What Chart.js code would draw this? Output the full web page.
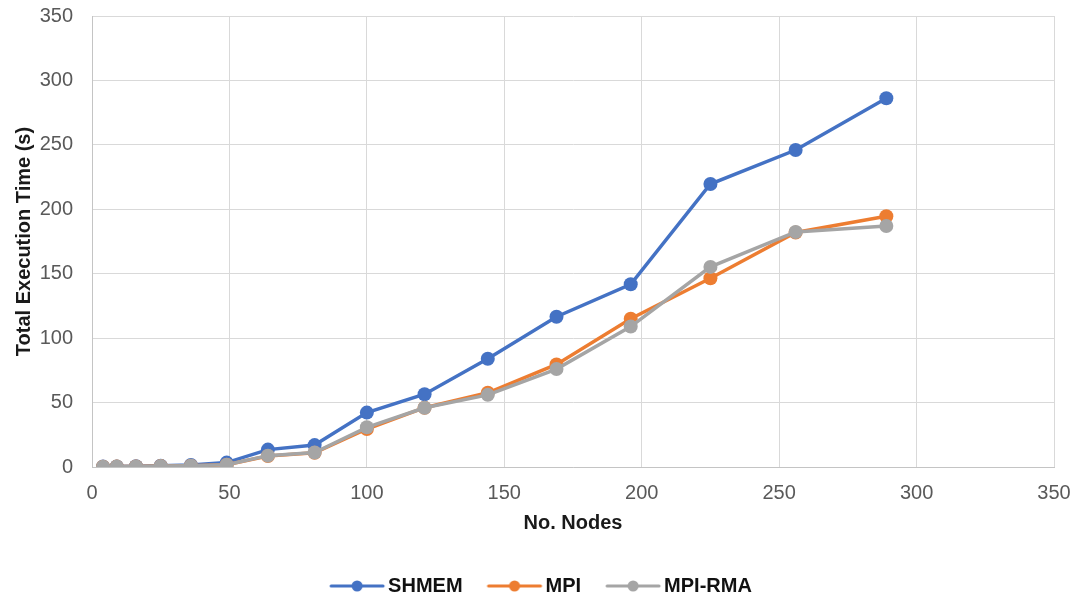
<!DOCTYPE html>
<html>
<head>
<meta charset="utf-8">
<script src="https://cdn.jsdelivr.net/npm/chart.js@4/dist/chart.umd.min.js"></script>
<style>
  html, body { margin: 0; padding: 0; background: #ffffff; }
  #wrap { width: 1078px; height: 601px; }
</style>
</head>
<body>
<div id="wrap"><canvas id="chart" width="1078" height="601"></canvas></div>
<script>
// Node counts (x) and total execution time in seconds (y) per implementation
const nodes = [4, 9, 16, 25, 36, 49, 64, 81, 100, 121, 144, 169, 196, 225, 256, 289];
const shmemTimes = [0.3, 0.4, 0.6, 1.0, 1.5, 3.4, 13.5, 17, 42.2, 56.5, 84, 116.6, 141.8, 219.6, 246, 286.2];
const mpiTimes = [0.2, 0.3, 0.4, 0.7, 1.0, 1.8, 8.5, 11, 29.5, 46, 57.6, 79.6, 115, 146.5, 182, 194.6];
const mpiRmaTimes = [0.2, 0.3, 0.4, 0.7, 1.0, 1.8, 8.8, 11.2, 30.8, 46, 56, 76, 109, 155.3, 182.4, 187];
const seriesNames = ['SHMEM', 'MPI', 'MPI-RMA'];
const seriesColors = ['#4472C4', '#ED7D31', '#A5A5A5'];
const axisTicks = [0, 50, 100, 150, 200, 250, 300, 350];

const FONT = "'Liberation Sans', Arial, sans-serif";

function toPoints(values) {
  return nodes.map((n, i) => ({ x: n, y: values[i] }));
}

// Legend symbol: a short line with a dot in the middle
function legendSymbol(color) {
  const c = document.createElement('canvas');
  c.width = 58; c.height = 14;
  const g = c.getContext('2d');
  g.strokeStyle = color;
  g.lineWidth = 3;
  g.lineCap = 'round';
  g.beginPath(); g.moveTo(3, 7); g.lineTo(55, 7); g.stroke();
  g.fillStyle = color;
  g.beginPath(); g.arc(29, 7, 5.5, 0, Math.PI * 2); g.fill();
  return c;
}

const allSeries = [shmemTimes, mpiTimes, mpiRmaTimes];
const datasets = allSeries.map((vals, i) => ({
  label: seriesNames[i],
  data: toPoints(vals),
  borderColor: seriesColors[i],
  backgroundColor: seriesColors[i],
  borderWidth: 3.5,
  pointRadius: 7,
  pointHoverRadius: 7,
  pointBorderWidth: 0,
  showLine: true,
  tension: 0,
  order: allSeries.length - i
}));

// Fix the legend's height and nudge its row sideways after layout
const legendTweakPlugin = {
  id: 'legendTweak',
  afterInit(chart) {
    const lg = chart.legend;
    if (!lg) return;
    const fit = lg.fit.bind(lg);
    lg.fit = function () { fit(); this.height = 56; };
  },
  afterLayout(chart) {
    const lg = chart.legend;
    if (!lg) return;
    lg.left += 17;
    lg.right += 17;
  }
};

new Chart(document.getElementById('chart'), {
  type: 'scatter',
  data: { datasets },
  plugins: [legendTweakPlugin],
  options: {
    responsive: false,
    animation: false,
    devicePixelRatio: 1,
    layout: { padding: { top: 16, right: 24, bottom: 0, left: 0 } },
    plugins: {
      tooltip: { enabled: false },
      legend: {
        position: 'bottom',
        labels: {
          usePointStyle: true,
          pointStyleWidth: 42,
          padding: 31,
          color: '#111111',
          font: { family: FONT, size: 20, weight: 'bold' },
          generateLabels(chart) {
            return chart.data.datasets.map((ds, i) => ({
              text: ds.label,
              fontColor: '#111111',
              pointStyle: legendSymbol(ds.borderColor),
              strokeStyle: ds.borderColor,
              fillStyle: ds.borderColor,
              lineWidth: 0,
              hidden: !chart.isDatasetVisible(i),
              datasetIndex: i
            }));
          }
        }
      }
    },
    scales: {
      x: {
        type: 'linear',
        min: axisTicks[0],
        max: axisTicks[axisTicks.length - 1],
        afterBuildTicks(scale) { scale.ticks = axisTicks.map(v => ({ value: v })); },
        afterFit(scale) {
          scale.height = 78;
          scale.paddingLeft = 0;
          scale.paddingRight = 0;
        },
        grid: { color: '#d9d9d9', lineWidth: 1, drawTicks: false },
        border: { color: '#c4c4c4', width: 1 },
        ticks: {
          padding: 14,
          color: '#595959',
          font: { family: FONT, size: 20 },
          maxRotation: 0
        },
        title: {
          display: true,
          text: 'No. Nodes',
          color: '#1a1a1a',
          font: { family: FONT, size: 20, weight: 'bold' },
          padding: { top: 0, bottom: 10 }
        }
      },
      y: {
        type: 'linear',
        min: axisTicks[0],
        max: axisTicks[axisTicks.length - 1],
        afterBuildTicks(scale) { scale.ticks = axisTicks.map(v => ({ value: v })); },
        afterFit(scale) {
          scale.width = 92;
          scale.paddingTop = 0;
          scale.paddingBottom = 0;
        },
        grid: { color: '#d9d9d9', lineWidth: 1, drawTicks: false },
        border: { color: '#c4c4c4', width: 1 },
        ticks: {
          padding: 19,
          color: '#595959',
          font: { family: FONT, size: 20 }
        },
        title: {
          display: true,
          text: 'Total Execution Time (s)',
          color: '#1a1a1a',
          font: { family: FONT, size: 20, weight: 'bold' },
          padding: { top: 12, bottom: 0 }
        }
      }
    }
  }
});
</script>
</body>
</html>
